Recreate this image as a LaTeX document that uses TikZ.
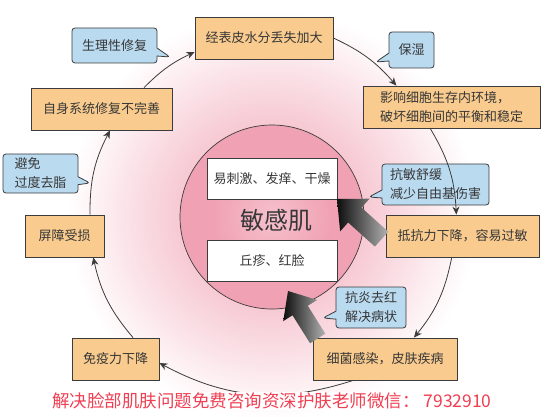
\documentclass[tikz,border=0pt]{standalone}
\usepackage{fontspec}
\setmainfont{Noto Sans CJK SC}
\usetikzlibrary{arrows.meta,shapes.callouts,calc}

\definecolor{boxorange}{RGB}{249,203,142}
\definecolor{boxblue}{RGB}{186,218,240}
\definecolor{txt}{RGB}{55,55,55}
\definecolor{edge}{RGB}{60,60,60}
\definecolor{redtxt}{RGB}{240,62,82}
\definecolor{pinkA}{RGB}{246,196,207}
\definecolor{pinkB}{RGB}{246,192,204}
\definecolor{pinkC}{RGB}{240,162,180}

\pgfdeclareradialshading{outerglow}{\pgfpoint{0bp}{0bp}}{color(0bp)=(pinkA); color(10bp)=(pinkA); color(25bp)=(white); color(50bp)=(white)}
\pgfdeclareradialshading{innerglow}{\pgfpoint{0bp}{0bp}}{color(0bp)=(pinkB); color(16bp)=(pinkC); color(25bp)=(pinkC); color(50bp)=(pinkC)}

\tikzset{
  box/.style={draw=edge, fill=boxorange, line width=0.8pt, minimum height=42pt, inner sep=0pt, text=txt},
  whitebox/.style={draw=edge, fill=white, line width=0.8pt, inner sep=0pt, text=txt, minimum width=130pt, minimum height=41pt},
  bubble/.style={rectangle callout, draw=edge, fill=boxblue, line width=0.8pt, rounded corners=3pt, inner sep=0pt, text=txt, callout pointer width=8pt},
  conn/.style={draw=edge, line width=0.8pt, -{Stealth[length=8pt,width=7pt,inset=2.5pt]}},
  fatarrow/.style={left color=black!95, right color=black!30, draw=none}
}

\begin{document}
\begin{tikzpicture}[x=1pt,y=-1pt,font=\fontsize{13}{19}\selectfont]
\useasboundingbox (0,0) rectangle (549,417);
\fill[white] (0,0) rectangle (549,417);

% glow
\shade[shading=outerglow] (272,215) circle (205);
\shade[shading=innerglow] (272,217) circle (92);
\draw[edge, line width=0.7pt] (272,217) circle (92);

% outer boxes
\node[box, minimum width=138pt] (e1) at (264,38) {经表皮水分丢失加大};
\node[box, minimum width=177pt, align=left] (e2) at (451.5,107) {影响细胞生存内环境，\\破坏细胞间的平衡和稳定};
\node[box, minimum width=153pt] (e3) at (462.5,236) {抵抗力下降，容易过敏};
\node[box, minimum width=144pt] (e4) at (385,359) {细菌感染，皮肤疾病};
\node[box, minimum width=87pt] (e5) at (115.5,359) {免疫力下降};
\node[box, minimum width=79pt] (e6) at (64.5,236) {屏障受损};
\node[box, minimum width=141pt] (e7) at (101.5,109) {自身系统修复不完善};

% inner boxes
\node[whitebox] (i1) at (272,178.5) {易刺激、发痒、干燥};
\node[whitebox] (i2) at (272,261) {丘疹、红脸};
\node[text=txt, font=\fontsize{24}{24}\selectfont] (mg) at (276,220) {敏感肌};

% callouts
\node[bubble, minimum width=85pt, minimum height=35pt, callout absolute pointer={(170,57)}] (b1) at (114.5,45.5) {生理性修复};
\node[bubble, minimum width=45pt, minimum height=36pt, callout absolute pointer={(376,62)}] (b2) at (411.5,50) {保湿};
\node[bubble, minimum width=75pt, minimum height=39pt, align=left, callout absolute pointer={(90,183)}] (b3) at (40.5,173.5) {避免\\过度去脂};
\node[bubble, minimum width=107pt, minimum height=41pt, align=left, callout absolute pointer={(369,197)}] (b4) at (435.5,184.5) {抗敏舒缓\\减少自由基伤害};
\node[bubble, minimum width=70pt, minimum height=41pt, align=center, callout absolute pointer={(323,318)}] (b5) at (371,307.5) {抗炎去红\\解决病状};

% fat arrows
\begin{scope}[shift={(337,199)}, rotate=-42]
  \shade[fatarrow] (0,0) -- (24,-22) -- (24,-10) -- (60,-10) -- (60,10) -- (24,10) -- (24,22) -- cycle;
\end{scope}
\begin{scope}[shift={(288,291)}, rotate=-58]
  \shade[fatarrow] (0,0) -- (23,-20) -- (23,-9) -- (56,-9) -- (56,9) -- (23,9) -- (23,20) -- cycle;
\end{scope}

% connectors
\draw[conn] (e1.east) to[bend left=12] ($(e2.north west)!0.19!(e2.north east)$);
\draw[conn] ($(e2.south west)!0.38!(e2.south east)$) to[bend left=14] ($(e3.north west)!0.46!(e3.north east)$);
\draw[conn] ($(e3.south west)!0.43!(e3.south east)$) to[bend left=14] ($(e4.north west)!0.7!(e4.north east)$);
\draw[conn] ($(e4.south west)!0.28!(e4.south east)$) to[bend left=23] ($(e5.east)+(0,4)$);
\draw[conn] ($(e5.north west)!0.7!(e5.north east)$) to[bend left=14] ($(e6.south west)!0.86!(e6.south east)$);
\draw[conn] ($(e6.north west)!0.82!(e6.north east)$) to[bend left=14] ($(e7.south west)!0.56!(e7.south east)$);
\draw[conn] ($(e7.north west)!0.8!(e7.north east)$) to[bend left=10] ($(e1.west)+(0,14)$);

% bottom text
\node[text=redtxt, fill=white, inner sep=1pt, font=\fontsize{17.5}{17.5}\selectfont] (ad) at (272,401) {解决脸部肌肤问题免费咨询资深护肤老师微信： 7932910};
\end{tikzpicture}
\end{document}
